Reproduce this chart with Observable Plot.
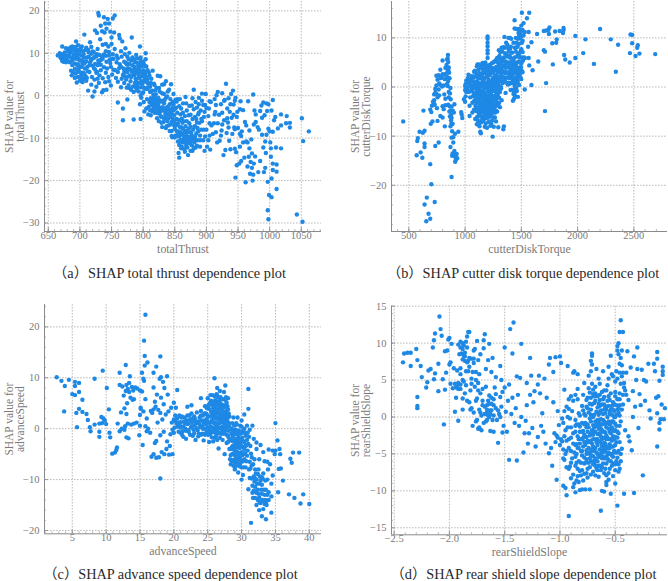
<!DOCTYPE html>
<html><head><meta charset="utf-8">
<script src="https://cdn.jsdelivr.net/npm/d3@7"></script>
<script src="https://cdn.jsdelivr.net/npm/@observablehq/plot@0.6"></script>
<style>
html,body{margin:0;padding:0;background:#fff}
#root{position:relative;width:668px;height:581px;overflow:hidden}
#root svg{position:absolute;background:transparent}
.cap{position:absolute;white-space:nowrap;transform:translate(-50%,-50%);font:14.3px "Liberation Serif","Noto Sans CJK SC",serif;color:#2a2a2a}
</style></head><body><div id="root"></div>
<script>
const thrustPoints=[
[665,9.5],[668,10],[670,8.8],[671,9.5],[672,11.6],[672,8.2],[673,9.8],[674,8],[675,9],[676,10.2],[677,8.5],[678,7.9],[679,9.4],[680,8.3],[681,10.5],[682,11],[683,9.6],[684,7.9],[685,11.4],[686,9],[686,10.3],[688,11.6],[688,8.4],[690,9.6],[690,11.2],[692,7.6],[693,10.4],[694,8.7],[695,9.3],[696,10.8],[697,7.4],[698,9.9],[699,8.4],[700,10.5],[702,9.5],[703,11.6],[704,8.2],[706,9.8],[707,7.6],[709,10.8],[711,9],[703,6.8],[686,5.9],[687,4.8],[692,4.2],[695,3.1],[696,5.6],[698,6.3],[700,3.6],[702,4.7],[704,3.2],[705,5.4],[706,4],[708,6.4],[709,4.6],[710,3.5],[712,5.8],[713,1.2],[718,2.6],[720,-0.2],[723,1],[726,2.1],[728,4],[715,7.2],[717,8.7],[720,10.4],[722,6.5],[724,9.3],[726,5.4],[728,11],[730,7.7],[707,14.4],[694,12.8],[716,12.6],[730,3],[733,6],[735,0.8],[737,1.3],[740,3.2],[742,1.4],[745,4.4],[749,2.4],[729,19.5],[730,18.9],[733,16.5],[735,15.2],[738,18.5],[740,17],[742,15.8],[744,18.1],[746,17],[748,15.1],[750,13.7],[752,18.2],[755,18.9],[724,15.4],[727,14.8],[732,13.3],[736,12],[739,14.9],[741,12.2],[745,11.6],[750,12.2],[754,14.9],[738,9.7],[733,8.4],[742,8],[746,10.3],[749,6.8],[753,8.7],[755,11],[758,9.4],[760,5.6],[762,14.3],[763,13.5],[765,10.5],[767,12.8],[770,8],[772,11.2],[775,9.2],[778,10.1],[782,13.7],[786,8.6],[789,9.6],[795,11.6],[804,10],[796,9],[760,-1.6],[768,-3],[768,-5.8],[775,-0.9],[778,1.8],[785,-5.6],[796,-5.5],[760,3.3],[765,2],[768,4.9],[770,3],[772,6.2],[774,1.9],[776,4.5],[778,7.5],[780,3.4],[782,5.7],[784,2.2],[786,6.8],[788,4],[790,1.3],[790,7.8],[792,5.2],[793,3],[794,6.5],[795,-2],[796,8.2],[797,2],[798,4.6],[799,0.6],[800,6],[801,3.4],[802,-3.7],[803,7],[804,1.6],[805,4.5],[806,-0.8],[807,6],[808,2.8],[809,-2.6],[810,4.7],[811,0.9],[812,-4.6],[812,3],[814,-1.2],[815,1.2],[816,-3],[817,-0.5],[818,2.5],[819,-1.9],[820,0.3],[821,-4],[822,-2.4],[823,4.7],[824,-0.5],[825,1.8],[826,-3.1],[827,4.6],[828,-1.4],[829,-5],[830,0.6],[831,-2.7],[832,-6.2],[833,2.7],[834,-1],[835,-3.8],[836,3.4],[837,-7.2],[838,-0.2],[839,-2.6],[840,-5.4],[841,1.4],[842,-8.3],[843,-3.4],[844,2.7],[845,-6.2],[846,-9.8],[847,-1.5],[848,0.4],[849,-4.6],[850,-7.8],[851,-9.4],[852,-2.8],[853,-5.5],[854,-0.8],[855,-8.6],[856,-13.5],[857,-14.6],[858,-10.7],[859,-4.4],[860,-7.4],[861,-12],[862,-9.2],[863,-1.8],[864,-6],[865,-11],[866,-13.2],[867,-0.3],[868,-8.3],[869,-3.5],[870,-12.2],[871,-14],[872,-9.8],[873,-6.5],[874,-11.2],[875,-4.5],[876,-8.8],[877,-2.3],[878,-13],[879,-10],[880,1.4],[881,-7.3],[882,-5],[883,-12.2],[884,-8.9],[885,-2.8],[886,-10.5],[888,-0.5],[889,-6.4],[890,-12],[891,-3.5],[892,-8],[893,0.5],[895,-10.5],[896,-5],[897,-13],[898,-2.2],[899,0.4],[900,-8],[901,-12],[903,-4.8],[905,-6.5],[906,-12.7],[907,-1.5],[910,-9],[912,-6.5],[913,-0.8],[914,-3.8],[916,0.1],[917,-11],[918,0.9],[920,-4.5],[921,-10.6],[923,-2],[924,-8.2],[925,0.6],[927,-14],[928,-5.8],[929,-1],[930,-12.8],[931,2.8],[932,-8.8],[933,-3],[934,-6.3],[935,-0.6],[936,-10.6],[937,-3.8],[938,-12.6],[939,0.4],[940,-5.2],[941,-9],[942,1.2],[943,-2.1],[944,-7.5],[945,-12.5],[946,-0.5],[947,-13.3],[948,-16.4],[949,-3.8],[950,-7.6],[952,-16],[953,-12],[954,-1.3],[955,-15.4],[956,-8.4],[958,-3.4],[960,-14.6],[961,-6.2],[962,-20.4],[946,-19.3],[963,-10.8],[965,-16.7],[966,-1.3],[967,-14.4],[968,-8.2],[969,-18.4],[970,-15.6],[971,-10.3],[972,-17],[973,-20],[974,0.3],[974,-18.6],[975,-16],[976,-3.5],[977,-14.3],[978,-6.2],[981,-7.4],[982,-18],[985,-15.4],[987,-2.3],[988,-9.2],[990,-1.6],[990,-12.2],[991,-18],[992,-4.6],[993,-17],[994,-13.5],[995,-1.8],[996,-3.6],[997,-20.3],[997,-27],[998,-29.1],[998,-2],[999,-23.4],[1000,-8.4],[1001,-11],[1002,-14.4],[1002,-12.4],[1003,-23.9],[1003,-19.5],[1003,-3.5],[1005,-1],[1005,-17.5],[1005,-16],[1005,-8.5],[1007,-5.8],[1009,-5],[1010,-12.2],[1011,-22],[1011,-17.9],[1011,-16.2],[1013,-7.7],[1018,-12.4],[1018,-7],[1018,-4.4],[1026,-6.5],[1027,-4.8],[1032,-7.5],[1032,-6.4],[1043,-28],[1051,-5.3],[1052,-29.7],[1053,-10.7],[1062,-8.4],
[790,2.5],[792,7],[794,4.2],[797,5.6],[799,2.8],[801,7.5],[803,5.2],[806,3.2],[783,7.2],[787,3],[791,5.8],[776,6.5],[781,8.3],[771,4.6],[765,6.8],[758,7.9],[752,9.8],[747,8.5],[741,10.5],[735,9.2],[729,8.3],[724,7.5],[718,9.9],[713,10.8],[808,-4.4],[813,-1.9],[819,-3.1],[825,-4.2],[830,-3.5],[835,-5.2],[840,-3.2],[845,-4.1],[850,-5.8],[855,-6.6],[860,-9],[865,-8.6],[870,-9.7],[875,-7.3],[880,-10.5],[885,-6.3],[858,-8.4],[862,-11],[868,-11.8],[873,-10.1],[877,-11.7],[882,-9.6],[823,-1.5],[828,-2.9],[833,0.4],[838,-4.5],[843,-0.8],[848,-3.4],[826,1],[816,0.2],[812,-0.6],[820,-1],[822,-5.3],[829,-6.4],[836,-7.6],[845,-8.3],[851,-3],[857,-2.5],[866,-4.8],[880,-3.2],[888,-4],[895,-2.2],[900,-2.9],[905,-9.4],[915,-8.6],[925,-4],[935,-7.5],[945,-7.9],[955,-9.5],[965,-11],[975,-6.8],[985,-3.6],[995,-9.2],
[678,11.2],[684,10.8],[689,10.7],[693,11.5],[697,11.9],[701,11.1],[705,10.5],[710,11.3],[714,10.2],[718,11.5],[722,10.3],[727,9.8],[669,9.2],[674,9.7],[678,8.9],[682,9.2],[686,8.1],[690,8.8],[694,9.8],[698,8.7],[702,8.3],[706,9],[710,8.1],[714,9.2],[718,8.4],[722,8.9],[726,9.3],[731,9.6],[736,8.7],[741,9.4],[746,9.5],[751,8.7],[688,7.2],[692,6.3],[696,7.1],[700,6.8],[704,7.6],[708,8],[712,6.8],[716,7.9],[720,7.1],[724,6.2],[728,7.2],[733,7.3],[738,6.7],[743,6.4],[748,7.7],[753,6.1],[689,5.5],[693,5.2],[697,4.4],[701,5.5],[703,3.9],[707,5.1],[711,4.2],[715,5.6],[719,4.4],[723,3.8],[727,5.6],[731,4.8],[736,4.1],[741,5.4],[746,3.4],[751,5],
[756,6],[760,8.8],[763,7.4],[766,9.2],[769,6.4],[771,9.8],[773,7.7],[775,5.6],[777,8.6],[779,6.3],[781,4.4],[783,9],[785,5],[787,7.9],[789,6.1],[791,8.8],[793,4.4],[795,7.4],[797,3.4],[799,5.1],[801,1.9],[803,3.9],[805,6.9],[807,1.6],[809,5.5],[811,2.1],[813,4],[815,5.9],[817,2.8],[800,8],[804,8.6],[773,3.8],[777,2.5],[781,1.4],[785,0.9],[789,3.5],[793,1],[797,-0.5],[801,-1.5],[805,-3],[786,4.8],[792,2],[796,0],[800,0.8],
[814,-3.6],[818,-0.2],[821,1.8],[824,-3.5],[827,-1.1],[830,2.6],[833,-3],[836,-0.5],[839,1],[842,-2],[845,-1.8],[848,-6],[851,-1],[854,-4],[857,-5.8],[860,-3],[863,-7.8],[866,-9.6],[869,-6],[872,-7.8],[875,-9.7],[878,-5.5],[881,-11],[884,-5.5],[887,-8.4],[890,-9.4],[893,-6],[896,-8],[810,-1.5],[815,-2.2],[820,-2.8],[825,-6],[830,-7.4],[835,-4.4],[840,-7],[845,-9.5],[850,-9.8],[855,-10.8],[860,-12.4],[865,-12.6],[870,-10.7],[875,-13],[880,-12.4],[885,-11.8],[890,-10.5],[852,-7],[857,-9.6],[862,-6.4],[867,-7.2],[872,-4.6],[877,-9.4],[882,-7.2],[887,-4.4],[892,-5.5],[897,-3.8],[833,-1.8],[838,-2.7],[843,-5],[848,-2],[853,-1.4],[858,-0.8],[863,-4],[868,-1.8],[873,-2.4],[878,-0.6],[883,-1.5],[888,-2],[893,-1.2],[898,-9.6],[903,-10.5],[908,-7],[913,-4.4],[918,-6.5],[923,-9.4],[928,-1.2],[933,-5.3],[938,-2],[943,-4.5],[948,-5],[953,-9],[958,-11],[963,-7],[968,-12.4],[972,-13.6],[978,-4.4],[983,-8],[988,-5.2],[993,-10.8],[998,-7.8],[953,-3.2],[945,-1.2],[925,-6.8],[915,-2.2],[905,-1.3],[904,-3],
[788,5.4],[795,3],[802,5.7],[807,3.9],[812,1],[819,1.2],[813,-1],[817,-1.4],[822,-1],[827,-3.8],[832,-1.2],[837,-3.4],[841,-4.2],[846,-2.9],[849,-7],[853,-8.3],[858,-7.4],[861,-5.4],[864,-10.2],[867,-10.4],[869,-8.8],[871,-11],[874,-8.6],[876,-10.6],[879,-8],[883,-10.4],[886,-7.6],[860,-10.4],[857,-11.6],[854,-9.5],[851,-6.6],[847,-5.5],[843,-6.8],[838,-6],[833,-5.4],[828,-4.8],[824,-2.2],[818,-4],[811,-3.4],[806,1.8],[802,4.4],[798,7],[793,6.2],[788,2],[784,6],[779,4.8],[774,7.4],[770,5.6],[766,4],[762,6.5],[757,4.2]
];
const torquePoints=[
[450,-7],[630,-4.8],[575,-11],[580,-10.4],[595,-9.1],[625,-9.3],[640,-8.9],[570,-13.9],[605,-13.3],[620,-14.4],[640,-11.5],[640,-12.2],[690,-15.7],[700,-19.8],[660,-22.5],[640,-23.9],[730,-23.4],[675,-25.8],[690,-26.8],[655,-27.3],[735,-12],[765,-11.3],[880,-18.3],[870,-12.2],[890,-13.5],[885,-14],[905,-13],[920,-13.8],[915,-14.3],[925,-13.6],[912,-15.2],[918,-14.8],[930,-14.5],[910,-9.5],[940,-9.1],[895,-11.3],[880,-10.3],[895,-10.2],[885,-9],[890,-7.5],[878,-7.5],[870,-8],[820,-8],[800,-6.2],[780,-5.9],[695,-7.5],[710,-7],[755,-6.9],[690,-4.6],[700,-5.1],[705,-3.8],[720,-3.1],[725,-2.7],[730,-3.6],[735,-1.2],[745,-1.4],[755,-2.1],[765,-0.5],[770,-1.7],[775,0.5],[750,-4.3],[800,-3.9],[810,-4.5],[825,-3.7],[825,-2.4],[815,-1.5],[850,-3.6],[855,-2.1],[862,-3.9],[866,-1.3],[870,-4.8],[875,-5.7],[880,-6.3],[890,-4.8],[900,-5.2],[905,-3.5],[975,-6.3],[965,-5.1],[970,-5.6],[1040,-5.9],[990,-2.5],[1000,-3],[1005,-1.9],[1040,-3.8],[745,2.3],[765,2.4],[770,0.7],[780,3.5],[790,1.9],[800,5.4],[815,2.5],[825,3.9],[835,4.5],[840,5.6],[848,6.5],[850,5.1],[855,4],[845,3.3],[858,2.9],[862,1.8],[850,1.2],[840,0.6],[810,0.3],[795,0.1],[870,-0.2],
[1000,0.2],[1005,0.6],[1010,1.3],[1015,0.1],[1020,-0.4],[1025,1.8],[1030,2.5],[1035,-1],[1040,0.7],[1045,-2.1],[1050,1.5],[1055,-0.5],[1060,2.2],[1065,-3.2],[1065,-5.2],[1070,0.3],[1075,-1.6],[1080,3.1],[1080,-4.6],[1085,1],[1090,-2.9],[1090,-6.5],[1095,-0.3],[1100,-4.1],[1100,2.4],[1105,-7.6],[1105,-1.7],[1110,4.6],[1110,0.6],[1115,-3],[1115,-6],[1120,3.5],[1120,-1],[1125,-4.8],[1125,-7.3],[1130,1.8],[1130,-2.2],[1135,-9.1],[1140,-9.4],[1135,-5.8],[1140,3.9],[1140,0.3],[1145,-3.4],[1145,-7],[1150,2.2],[1150,-0.9],[1155,4.9],[1155,-5],[1160,-2.3],[1160,1],[1165,-6.7],[1165,3],[1170,-0.2],[1170,-3.9],[1175,-8.1],[1175,1.9],[1180,-1.3],[1180,4],[1185,-5.6],[1185,-2.8],[1190,0.5],[1195,-8.3],[1195,2.5],[1200,10.3],[1200,9.8],[1200,9],[1200,8.3],[1200,7.5],[1200,6.8],[1200,5.9],[1200,4.4],[1205,3.3],[1205,-3.7],[1205,-0.6],[1210,1.5],[1210,-6.2],[1215,-2],[1215,4],[1220,0.2],[1220,-4.4],[1225,2.8],[1225,-7.9],[1230,-1.1],[1230,-5.5],[1235,1.1],[1235,4.8],[1240,-3],[1240,-6.8],[1245,-10.1],[1245,3.3],[1250,0],[1250,-4.5],[1255,2],[1255,-8.1],[1260,-1.8],[1260,5.2],[1265,-3.7],[1265,-6.2],[1270,0.9],[1270,3.8],[1275,-2.6],[1275,-7],[1280,2.4],[1280,-0.5],[1285,5.9],[1285,-5],[1290,-1.9],[1290,3.1],[1295,-8.2],[1295,0.4],[1300,4.7],[1300,-3.3],[1305,1.6],[1305,6.3],[1310,-1],[1310,-4.1],[1315,3.3],[1320,5.6],[1320,-0.3],[1325,2],[1325,-2.7],[1330,7.2],[1330,4.1],[1335,0.8],[1340,-8.6],[1345,-8],[1340,3],[1345,6],[1350,8],[1350,10.2],[1350,1.8],[1355,4.4],[1360,-1.2],[1365,6.6],[1370,2.8],[1375,8.6],[1380,4.9],[1380,0.5],[1385,10],[1390,2],[1395,6.3],[1400,3.8],[1400,7.8],[1405,-0.6],[1410,5.2],[1410,9.8],[1415,3],[1420,7],[1420,1],[1425,-2.8],[1425,5],[1430,9],[1430,-1.4],[1435,2.8],[1435,-2.4],[1440,13.6],[1440,11.9],[1440,6],[1440,0.2],[1445,3.4],[1445,-1.8],[1450,10],[1450,8],[1455,1.6],[1455,4.8],[1460,11.8],[1460,-0.8],[1465,2.5],[1470,6.6],[1470,-2],[1475,11],[1475,3.8],[1480,10.4],[1480,0.4],[1485,5],[1490,9.9],[1490,2.8],[1495,7.4],[1495,4.1],[1500,12.5],[1500,10.4],[1505,15.1],[1505,6],[1510,11.6],[1510,3],[1515,5.4],[1520,13],[1525,6],[1530,11.2],[1530,-0.5],[1550,14],[1560,8.2],[1565,11.2],[1565,5.9],[1570,15.1],[1570,4.4],[1590,0.4],[1590,9.1],[1600,3.4],[1640,10.8],[1650,5.2],[1700,11.4],[1700,7.5],[1710,7.2],[1710,-4.9],[1720,11.5],[1720,0.8],[1740,11.6],[1745,10.8],[1750,12.1],[1775,8.9],[1780,4.6],[1800,11.3],[1810,9],[1815,9.7],[1840,11.4],[1870,11],[1875,11.6],[1875,12],[1880,6.5],[1890,5.6],[1930,5],[1980,5.9],[1980,10.4],[2050,6.9],[2070,9.7],[2145,4.7],[2200,11.8],[2295,9.7],[2340,3.1],[2360,8.6],[2465,6.9],[2470,10.7],[2485,10.6],[2485,8.9],[2515,6.3],[2530,8],[2535,8.5],[2550,6.8],[2690,6.7],
[1100,-1.5],[1108,-3],[1112,-0.8],[1118,0.8],[1122,-2.6],[1128,-0.4],[1133,-3.6],[1138,-1.6],[1142,-5],[1148,-2.2],[1152,0.6],[1158,-3.6],[1162,-1],[1168,1.8],[1172,-2.6],[1178,-4.6],[1182,0],[1188,-3.4],[1192,-1.8],[1198,-5.4],[1202,0.6],[1208,-2.6],[1212,-0.8],[1218,-3.4],[1222,-1.4],[1228,0.8],[1232,-3],[1238,-0.4],[1242,-1.8],[1248,1.4],[1252,-2.6],[1258,0.6],[1262,3.4],[1268,-0.8],[1272,1.8],[1278,-1],[1282,3.8],[1288,1.4],[1292,4.2],[1298,2],[1302,-0.9],[1308,3.8],[1312,1.8],[1318,2],[1322,3.6],[1328,5.4],[1335,3.2],[1342,1.2],[1348,4.4],[1358,2.8],[1362,5.2],[1368,4],[1373,0.8],[1378,3],[1388,4],[1392,0.6],[1398,1.8],[1402,6],[1408,2.4],[1412,0.8],[1418,4.4],[1422,2.8],[1428,0.8],[1432,3.4],[1438,4.8],[1442,1.8],[1448,-0.5],[1452,2.8],[1458,0.8],[1462,4],[1468,1.2],[1472,3],[1478,6.6],[1488,3.6],[1498,1.6],[1073,2.1],[1092,3],[1105,4.2],[1125,4.6],[1147,4.2],[1172,3.6],[1187,2.8],[1212,3.6],[1242,3.9],[1262,1.7],[1115,1.9],[1135,2.4],[1158,2.8],[1178,-6.2],[1123,-5.4],[1143,-4.4],[1163,-5.2],[1183,-7.4],[1203,-5],[1223,-5.8],[1243,-3.4],[1263,-4.6],[1283,-3.6],[1303,-2.2],[1113,-4.4],[1133,-7],[1153,-6.4],[1193,-4],[1213,-4.4],[1233,-7.5],[1253,-6.2],[1273,-4.8],[1293,-1.3],
[1088,3.3],[1127,2.8],[1162,3.4],[1192,3.1],[1227,3.4],[1252,2.9],[1293,3.2],[1077,1.9],[1102,2.2],[1123,1.8],[1147,2.3],[1171,1.7],[1197,2.1],[1218,2.4],[1247,1.8],[1268,2.2],[1302,1.9],[1321,2.4],[1062,1.1],[1087,0.8],[1108,1.2],[1137,0.7],[1156,1.3],[1178,0.9],[1207,1.2],[1232,0.7],[1253,1.1],[1282,0.9],[1311,1.2],[1047,0.2],[1077,-0.2],[1093,0.3],[1122,-0.1],[1146,0.2],[1167,-0.3],[1188,0.1],[1217,0.3],[1238,-0.2],[1267,0.2],[1291,-0.1],[1316,0.1],[1062,-0.8],[1088,-1.2],[1107,-0.9],[1132,-1.1],[1151,-0.8],[1173,-1.2],[1198,-0.9],[1227,-1.2],[1248,-0.8],[1277,-1.1],[1301,-0.7],[1072,-1.9],[1096,-2.2],[1118,-1.8],[1141,-2.1],[1166,-1.8],[1189,-2.2],[1211,-1.9],[1236,-2.2],[1258,-1.8],[1287,-2.1],[1082,-2.8],[1103,-3.2],[1127,-2.9],[1152,-3.1],[1174,-2.8],[1197,-3.2],[1219,-2.9],[1246,-3.1],[1268,-2.8],[1294,-3.2],[1092,-3.8],[1113,-4.2],[1137,-3.9],[1162,-4.1],[1183,-3.8],[1207,-4.2],[1228,-3.9],[1257,-4.1],[1278,-3.8],[1098,-4.9],[1122,-5.1],[1147,-4.8],[1168,-5.1],[1192,-4.9],[1217,-5.1],[1238,-4.8],[1267,-5.2],[1107,-6.1],[1128,-5.9],[1157,-6.1],[1173,-5.8],[1202,-6.2],[1223,-5.9],[1252,-5.2],[1116,-6.9],[1142,-7.2],[1158,-6.9],[1187,-6.3],[1208,-7.1],[1112,-7.4],[1128,-8],[1119,-7.6],
[1342,8.1],[1382,7.9],[1407,8.2],[1442,8],[1467,8.2],[1312,7.1],[1353,6.9],[1387,7.2],[1413,7],[1452,7.2],[1478,6.9],[1512,7.1],[1302,6.1],[1337,5.9],[1372,6.2],[1398,6],[1432,5.8],[1462,6.2],[1488,6],[1532,5.9],[1287,5.1],[1317,4.9],[1343,5.2],[1377,5],[1403,4.9],[1427,5.2],[1448,5],[1477,5.2],[1502,4.9],[1277,4.1],[1307,4],[1332,4.2],[1362,3.9],[1392,4.1],[1417,3.8],[1447,4.2],[1468,3.9],[1497,4],[1293,3],[1322,2.9],[1352,3.1],[1382,2.9],[1407,3.1],[1433,2.9],[1458,3.1],[1487,2.9],[1507,3.2],[1312,2.1],[1342,2],[1372,1.9],[1397,2.2],[1427,2],[1452,1.8],[1477,2.1],[1492,2],[1327,1],[1357,1.1],[1387,0.9],[1422,1.2],[1447,1],[1467,0.8],[1437,-1.1],[1443,-2],[1428,-0.6],[1447,-0.9],[1455,-0.2],[1432,1.6],[1500,7.7],[1512,9.4],[1480,8.8],[1470,9.8],[1520,10.5],[1495,11.2],[1455,9],[1480,11.8],[1505,9],[1400,10],[1365,9],[1325,8],[1300,7.5],
[845,5.8],[835,4],[852,3.5],[843,2],[846,0.2],[855,-1],[860,-5],[865,-6],[872,-2.5],[880,-4],[875,-6.8],[830,2.7],[820,1.6],[800,2.6],[780,1.8],[755,1.5],[745,0.3],[735,-0.4],[725,-1.5],[715,-3],[1000,-0.6],[1020,1],[1010,-1],[1030,1],[1180,5],[1168,4.5],[1220,4.5],[1250,5],[1275,5.5],[1295,5.8]
];
const speedPoints=[
[2.7,10.1],[3.4,9.4],[3.9,8.4],[3.8,3.4],[4.5,9.6],[5,6.8],[5.4,9.2],[5.4,8.4],[5.4,6.6],[5.6,3.1],[5.7,0.3],[6,9],[6,7.2],[6,3.9],[6.5,5.7],[6.5,3.3],[7.1,2.9],[7.3,1.7],[7.6,0.3],[7.7,-0.5],[8.3,9.8],[8.3,0.8],[9,-0.6],[9,-1.6],[9,1],[9.3,2.3],[9.5,11.4],[9.4,1.1],[9.6,2],[9.8,1.6],[10,0.9],[10.1,8],[10.4,3.8],[10.5,-0.8],[10.6,-1.7],[10.9,-4.9],[11.3,-4.7],[11.5,-4.2],[11.6,-3.7],[11.7,1],[12,11],[12,-0.5],[12,8.6],[12.2,3.2],[12.3,0],[12.4,8.3],[12.6,6.5],[12.7,-0.2],[12.7,4],[12.8,0.5],[12.9,7.4],[12.9,12.5],[13,-1.7],[13,2.9],[13,8.6],[13.1,5],[13.2,7.8],[13.2,1],[13.3,-1.9],[13.4,9],[13.4,7.2],[13.5,10.3],[13.6,6.1],[13.7,0.8],[13.8,8.2],[13.9,5.7],[14,7.5],[14.1,1],[14.1,5.8],[14.3,8.1],[14.5,1.2],[14.6,7.9],[14.9,-1.3],[15,0.6],[15,7.5],[15,2.7],[15.1,3.9],[15.1,4.1],[15.3,7.3],[15.3,11],[15.4,-3.2],[15.5,3.4],[15.5,9.8],[15.6,9.4],[15.7,12.4],[15.7,14.3],[15.6,17.3],[15.8,22.4],[15.8,0.5],[15.8,5.8],[16,2],[16,-0.5],[16.1,13],[16.2,0],[16.5,-0.8],[16.6,3.5],[16.7,-5.5],[16.8,3.1],[17,11],[17,-5],[17,8.1],[17,3.8],[17.2,5.3],[17.2,-2.8],[17.3,4.3],[17.4,12.2],[17.4,-5.7],[17.4,-2.4],[17.5,6.7],[17.6,1.2],[17.7,3.7],[17.8,-5.6],[17.9,9.8],[18,14.2],[18,-9.8],[18,-1.3],[18,3.1],[18.1,6.1],[18.1,10.1],[18.2,-4.6],[18.3,1.8],[18.4,9.2],[18.5,-0.6],[18.5,4.8],[18.6,-5],[18.6,8],[18.8,2.8],[18.9,-4],[19,-2.5],[19,10.3],[19.1,6.7],[19.2,3.4],[19.3,-5.1],[19.4,-3.4],[19.5,-1.1],[19.6,4.1],[19.8,-5],[19.8,-0.2],[20,5.1],[20,1.8],[20.2,2.6],[20.3,4.1],[20.5,7.6],[20.6,0.4],[20.8,2.6],[21,-0.8],[21,1.3],[21.2,-1.2],[21.4,0.4],[21.6,2.2],[21.8,-2],[22,0.9],[22,4.3],[22.2,-0.6],[22.4,1.8],[22.6,4.6],[22.6,3],[22.8,-1.4],[23,0.6],[23,2.4],[23.2,-2.2],[23.4,3.2],[23.5,-0.3],[23.6,1.4],[23.8,2.2],[24,-1.2],[24,6],[24,3.5],[24.2,0.5],[24.4,-2.3],[24.5,1.6],[24.6,4.4],[24.8,-0.7],[25,6],[25,2.6],[25,0.3],[25.2,-2.6],[25.2,3.9],[25.4,6.6],[25.4,-1],[25.6,1.6],[25.6,4.7],[25.8,-2.5],[25.8,2.8],[25.8,0],[26,6.4],[26,9.9],[26,4.6],[26,1],[26.2,-1.5],[26.2,3],[26.4,8],[26.4,-0.3],[26.4,5.2],[26.6,1.8],[26.6,-3.9],[26.8,4],[26.8,7.4],[26.8,0.2],[27,2.8],[27,-1],[27.2,5.8],[27.2,1.3],[27.2,-2.2],[27.4,4.2],[27.4,7.2],[27.5,-5],[27.6,8.5],[27.6,2.6],[27.6,-0.4],[27.8,5.1],[27.8,1],[27.8,-2.8],[28,3.8],[28,-1.4],[28,6],[28.2,0.4],[28.2,-4],[28.2,2.4],[28.4,-7],[28.4,-5.2],[28.4,-2.2],[28.6,1.1],[28.6,-6.4],[28.6,-3.6],[28.8,-0.4],[28.8,-7.3],[28.8,2.2],[29,-5],[29,-2.4],[29,-8],[29.2,-1],[29.2,-6.6],[29.2,1.1],[29.4,-3.6],[29.4,-5.4],[29.4,2.2],[29.5,-8.6],[29.6,-1.8],[29.8,-6.8],[29.8,0.6],[29.8,-3],[30,-10],[30,-4.6],[30,1.6],[30,-0.9],[30.2,-6.4],[30.2,-9.1],[30.2,-2.4],[30.4,2.8],[30.4,-4],[30.4,0],[30.6,-7.6],[30.6,-1.4],[30.8,-5.3],[30.8,0.6],[31,7.8],[31,3.9],[31,-11.9],[31,-3],[31.2,-9.7],[31.2,-6.5],[31.2,-0.2],[31.4,-18.5],[31.4,-4.9],[31.5,-7.2],[31.6,-11.2],[31.6,-12.6],[31.6,0.6],[31.8,-9.4],[31.8,-2],[32,-13.6],[32,-8],[32,-11.4],[32.2,-15],[32.2,-4],[32.2,-2.7],[32.4,-8.9],[32.4,-12],[32.6,-13.5],[32.6,-6],[32.6,-16],[32.8,-10.2],[32.8,-3.2],[33,-17.2],[33,-12.8],[33,-11],[33.2,-8.8],[33.2,-15.8],[33.2,-4.6],[33.4,-13],[33.4,-6.4],[33.6,-14.4],[33.6,-17.8],[33.8,-10],[33.8,-6.5],[34,-4.1],[34,-12.5],[34,-14],[34.2,-7],[34.4,-16.5],[34.4,-10.8],[34.4,-13.3],[34.6,-9.2],[34.6,-4.3],[34.9,-5],[35,1.1],[35,-4.3],[35.3,-2.3],[35.4,-12.5],[35.5,-7.9],[35.6,-4],[35.7,-5],[35.8,-7.8],[36.1,-10.2],[37,-12.9],[37.2,-5.9],[37.4,-6.7],[37.6,-4.7],[37.8,-13.6],[38.5,-4.7],[38.7,-14.7],[39.1,-12.9],[40,-14.8],
[25.5,3.3],[25.7,1.4],[25.9,3.6],[26.1,2],[26.3,0.7],[26.5,3.4],[26.7,2.2],[26.9,1.2],[27.1,3.6],[27.3,0],[27.5,2],[27.7,3.4],[27.9,2],[28.1,-0.4],[25.3,1.1],[25.1,-1.2],[24.9,2],[24.7,0.9],[24.3,2.6],[24.1,1.6],[23.9,0.3],[23.7,-1],[23.3,1],[23.1,2],[22.9,-0.2],[22.7,1.3],[22.5,0.2],[22.3,2.6],[22.1,-0.3],[21.9,1.6],[21.7,0],[21.5,1.4],[21.3,-0.5],[21.1,2.2],[20.9,0.6],[20.7,-0.6],[20.4,1],[20.1,0.2],[26.1,5.6],[26.3,6.8],[26.5,6.2],[26.7,5.5],[26.9,6.2],[27.1,4.6],[27.3,3.2],[27.5,4.2],[27.7,6.2],[27.9,2.9],[25.9,5],[25.7,6.6],[25.5,5.5],[25.3,5],[25.1,4.6],[26,-1.8],[26.4,-2.2],[26.8,-1.8],[27.2,-0.4],[29,-3.6],[29.2,-4.4],[29.4,-2.4],[29.6,-4.8],[29.8,-2],[30,-7.6],[30.2,-3.6],[30.4,-6],[30.6,-3.4],[30.8,-2.2],[29.1,-0.2],[29.3,0.8],[29.5,-0.4],[28.9,-3.2],[28.7,-1.6],[28.5,-1],[28.3,-6],[28.5,-3.8],[28.7,-5],[28.9,-6.2],[29.1,-7.4],[29.3,-2.6],[32.4,-14],[32.8,-14.6],[33,-14.2],[33.4,-14.8],[33.6,-12],[33.8,-13],[32.2,-12.6],[32.6,-10.8],[33,-9.6],[32.2,-10],[31.8,-12.2],[32,-9.8],
[19.7,1.2],[20,-0.8],[20.2,1.5],[20.5,2],[20.7,1.2],[21,0.2],[21.2,2.4],[21.4,-1.6],[21.6,1],[21.8,-0.4],[22,2.6],[22.2,1.1],[22.4,-1.2],[22.6,0.5],[22.8,2],[23,-0.9],[23.2,1.4],[23.4,0.1],[23.6,-1.5],[23.8,0.9],[24,2.6],[24.2,-1],[24.4,1.2],[24.6,0],[24.8,2.9],[25,1.4],[25.2,-0.4],[25.4,2.4],[25.6,-1.7],[25.8,1.2],[24.9,4],[24.7,3],[24.5,3],[24.3,0],
[25.4,0.4],[25.5,-0.6],[25.6,0.3],[25.7,3],[25.8,4],[25.9,2.2],[25.9,-0.7],[26,0.1],[26,3],[26.1,-0.4],[26.1,4.4],[26.2,1.2],[26.2,2.4],[26.3,3.8],[26.3,-1],[26.4,2],[26.4,6.6],[26.5,0.2],[26.5,4.6],[26.6,3],[26.6,-0.9],[26.7,1],[26.7,4.4],[26.8,2.8],[26.8,-0.9],[26.9,0.1],[26.9,5],[27,1.9],[27,4],[27.1,-0.2],[27.1,2.6],[27.2,3.2],[27.2,0.4],[27.3,1.6],[27.3,4.6],[27.4,-1],[27.4,2.4],[27.5,0.8],[27.5,3.2],[27.6,5.6],[27.6,1.4],[27.7,0.2],[27.7,4.6],[27.8,2.4],[27.8,-1.2],[27.9,0.6],[27.9,4.4],[28,1.3],[28,-2.6],[28.1,1],[28.1,3],[28.1,-1.8],[25,-0.6],[24.8,1.1],[24.6,-1.2],
[28.4,-4],[28.5,0],[28.5,-6.2],[28.6,-2.4],[28.6,-5],[28.7,-0.4],[28.7,-3.4],[28.8,-6.2],[28.8,-1.2],[28.9,-4.2],[28.9,0.6],[29,-6.6],[29,-0.8],[29.1,-2],[29.1,-5.5],[29.2,-3.2],[29.3,-6.2],[29.3,-0.7],[29.4,-4.6],[29.4,-1.2],[29.5,-7],[29.5,-2.8],[29.6,-5.8],[29.6,-0.4],[29.7,-3.8],[29.7,-7.4],[29.8,-5.4],[29.8,-1],[29.9,-2.6],[29.9,-6.2],[30,-3.4],[30,0.4],[30.1,-5.2],[30.1,-1.8],[30.2,-0.4],[30.3,-5],[30.3,-7.6],[30.4,-2.6],[30.5,-0.8],[30.5,-4.8],[30.7,-6.4],[30.7,-3.2],[30.9,-4.3],[30.9,-0.8],[31.1,-1.6],[31.1,-8],[31.3,-3.4],[31.3,-7.8],[31.5,-5.6],[31.5,-9.8],[31.7,-7],[31.7,-13.6],[31.9,-10.4],[31.9,-6],[32.1,-12.4],[32.1,-8.8],[32.3,-10.8],[32.5,-8],[32.5,-12.8],[32.7,-9.4],[32.7,-14.5],[32.9,-12],[33.1,-14],[33.1,-9.8],[33.3,-12],[33.5,-14],[33.5,-10.2],[33.7,-15],[33.9,-8]
];
const slopePoints=[
[-2.42,7.4],[-2.41,8.6],[-2.38,8.7],[-2.35,8.7],[-2.35,6.9],[-2.3,9.2],[-2.29,7.7],[-2.29,2.7],[-2.29,1.5],[-2.29,1.2],[-2.26,6.9],[-2.25,5.4],[-2.21,4],[-2.2,4.7],[-2.19,6.3],[-2.17,6.5],[-2.15,9.4],[-2.14,10.4],[-2.13,11.3],[-2.14,5.1],[-2.13,5.9],[-2.1,3.5],[-2.1,7.2],[-2.09,13.6],[-2.08,11.9],[-2.07,11],[-2.06,5.1],[-2.05,-1],[-2.04,3.7],[-2.04,8.9],[-2.03,6],[-2.02,9],[-2.01,10.5],[-2,10.7],[-2,7.1],[-1.99,7.4],[-1.99,4.5],[-1.98,9.9],[-1.96,6.6],[-1.95,0.7],[-1.94,2.6],[-1.93,4.1],[-1.93,6.3],[-1.92,-0.5],[-1.91,8.5],[-1.9,6.6],[-1.89,8.6],[-1.88,1],[-1.88,2.5],[-1.87,4.8],[-1.87,9.7],[-1.86,7.6],[-1.85,4.3],[-1.84,9.4],[-1.83,11.5],[-1.82,11.5],[-1.82,8],[-1.81,1],[-1.81,3.6],[-1.8,4.5],[-1.79,-1.2],[-1.79,6.1],[-1.78,9],[-1.77,9.2],[-1.77,4.1],[-1.76,2.2],[-1.75,10.3],[-1.75,2.5],[-1.74,7.7],[-1.73,1],[-1.73,5.8],[-1.72,8.5],[-1.71,-1.8],[-1.7,3.8],[-1.69,10.4],[-1.69,9.3],[-1.68,11.2],[-1.67,6.5],[-1.67,4.1],[-1.66,1.6],[-1.65,7.7],[-1.64,9.9],[-1.64,2.9],[-1.63,-1.9],[-1.62,6.1],[-1.62,0.9],[-1.61,8],[-1.6,1.6],[-1.6,-2],[-1.59,4],[-1.58,3.1],[-1.58,5.4],[-1.57,-0.4],[-1.56,-3.5],[-1.55,0.4],[-1.54,2.7],[-1.54,6.9],[-1.53,5],[-1.53,1.4],[-1.52,-2.1],[-1.51,-1.2],[-1.5,9.4],[-1.5,4],[-1.49,0.7],[-1.48,-2],[-1.47,2.2],[-1.46,4.4],[-1.46,-5.8],[-1.45,11.9],[-1.44,0.4],[-1.43,8.6],[-1.43,2.6],[-1.42,12.8],[-1.41,-0.8],[-1.4,1.2],[-1.39,5.5],[-1.39,-5.9],[-1.38,3],[-1.37,-1.2],[-1.36,5.3],[-1.35,9.9],[-1.35,0],[-1.33,-4.8],[-1.32,-2.2],[-1.31,-0.5],[-1.3,1.6],[-1.3,4.6],[-1.29,-3.6],[-1.28,-2.2],[-1.27,8],[-1.27,3],[-1.26,5.6],[-1.25,-1.5],[-1.24,2],[-1.23,3.5],[-1.22,-4],[-1.2,-2.7],[-1.2,4.4],[-1.19,5.6],[-1.18,3.2],[-1.17,-1.2],[-1.16,0.5],[-1.15,-2],[-1.14,5.2],[-1.13,-3.6],[-1.12,2.6],[-1.1,-4.9],[-1.1,7.1],[-1.09,8],[-1.08,-4.2],[-1.07,-6.6],[-1.06,2],[-1.06,6.1],[-1.05,-2.2],[-1.04,8.1],[-1.03,-8.5],[-1.03,-2.5],[-1.02,0.8],[-1.01,-1.1],[-1,8.2],[-0.99,7.3],[-0.98,-3.3],[-0.97,-9.3],[-0.96,3.7],[-0.96,-5.8],[-0.95,-9.6],[-0.94,-10.6],[-0.93,6.9],[-0.92,-13.4],[-0.92,1.1],[-0.91,-6.7],[-0.9,-8.3],[-0.89,0.8],[-0.88,6],[-0.87,6.2],[-0.86,-10.2],[-0.85,-3.7],[-0.84,5.8],[-0.83,-4.2],[-0.82,-9.9],[-0.81,-7.9],[-0.8,-9.8],[-0.79,3],[-0.78,-6.3],[-0.77,-9.8],[-0.76,-1.4],[-0.75,2.6],[-0.74,-3.4],[-0.73,-9.8],[-0.72,-4.7],[-0.71,8.6],[-0.7,3.7],[-0.7,-2.4],[-0.69,-6.3],[-0.68,-7.9],[-0.67,6.5],[-0.66,-3.5],[-0.65,-8.1],[-0.65,5.2],[-0.64,1.5],[-0.63,-12.7],[-0.63,-0.3],[-0.62,-10],[-0.61,6.2],[-0.6,-2],[-0.6,-10.1],[-0.59,-5.6],[-0.58,1.4],[-0.57,-5],[-0.57,4.3],[-0.56,-8.5],[-0.56,6.8],[-0.55,-7],[-0.55,2.3],[-0.55,-1],[-0.54,-10.4],[-0.54,8.3],[-0.53,-3.2],[-0.53,0.3],[-0.52,-6.3],[-0.52,5.5],[-0.51,-1.9],[-0.5,-9],[-0.5,2.8],[-0.5,-4.8],[-0.49,6.2],[-0.48,9],[-0.48,-2.8],[-0.48,-12],[-0.47,0.6],[-0.47,-6.4],[-0.46,3.2],[-0.46,11.5],[-0.45,-0.6],[-0.45,13.1],[-0.45,8],[-0.44,5.5],[-0.44,-4.3],[-0.43,1.7],[-0.43,11.5],[-0.42,-10.4],[-0.42,4],[-0.41,-1.8],[-0.4,6],[-0.39,8.9],[-0.38,2.3],[-0.38,-2.6],[-0.37,-3.3],[-0.36,6.7],[-0.35,-4.5],[-0.34,0],[-0.34,3.5],[-0.33,8.2],[-0.33,-10.3],[-0.32,1.4],[-0.31,5],[-0.3,6.5],[-0.3,9.4],[-0.29,-1.5],[-0.28,3.1],[-0.27,1.6],[-0.26,6.4],[-0.25,-7.9],[-0.24,5],[-0.23,2.2],[-0.22,4.8],[-0.2,7.2],[-0.19,0.9],[-0.18,-0.2],[-0.15,7.2],[-0.14,6.2],[-0.13,2.6],[-0.12,8.8],[-0.12,-4],[-0.12,7.9],[-0.12,0.5],[-0.11,2.8],[-0.1,4.9],[-0.1,-0.8],[-0.1,-1.7],[-0.09,-0.3],[-0.08,1.7],[-0.07,6.2],[-0.07,6.8],[-0.07,5.7],[-0.06,-0.3],[-0.05,1.2],
[-0.85,-1],[-0.84,2.4],[-0.83,-6],[-0.82,0.2],[-0.81,-3],[-0.8,1.5],[-0.8,-5.2],[-0.79,-1.9],[-0.78,-7.7],[-0.78,0.4],[-0.77,-3.8],[-0.76,2.3],[-0.76,-5.7],[-0.75,-1],[-0.75,-7],[-0.74,0.6],[-0.74,-4.9],[-0.73,3.3],[-0.73,-2.5],[-0.72,-6],[-0.72,1],[-0.71,4.5],[-0.71,-3.6],[-0.7,0],[-0.7,-5.3],[-0.69,1.9],[-0.69,-1.4],[-0.68,3.2],[-0.68,-4.2],[-0.67,-0.7],[-0.67,-6.9],[-0.66,1.3],[-0.66,-2.3],[-0.65,-5.4],[-0.65,0.3],[-0.64,3],[-0.64,-3.3],[-0.63,-7.2],[-0.63,-1.6],[-0.62,1.7],[-0.62,-4.6],[-0.61,-0.4],[-0.61,-6.3],[-0.6,2.7],[-0.6,-3.5],[-0.59,0.5],[-0.59,-2.1],[-0.58,-7.9],[-0.58,-4],[-0.57,-0.8],[-0.57,-2.8],[-0.56,1.5],[-0.56,-5.9],[-0.55,-3.7],[-0.54,-1.6],[-0.54,1],[-0.53,-5],[-0.52,-0.6],[-0.52,-2.6],[-0.51,1.7],[-0.5,-6.4],[-0.5,0],[-0.49,-3.4],[-0.49,-1.2],[-0.48,-5.5],[-0.48,1],[-0.47,-2.2],[-0.46,-7],[-0.46,0.2],[-0.45,-5],[-0.88,-2.2],[-0.87,-4.8],[-0.86,-0.4],[-0.89,-5.6],[-0.9,-2.8],[-0.91,-0.2],[-0.92,-4.2],[-0.93,-1.4],[-0.94,-3.2],[-0.95,-1.8],[-0.96,-2.6],[-0.97,-0.8],[-0.75,-2],[-0.74,-3.4],[-0.72,-0.6],[-0.71,-1.8],[-0.7,-3],[-0.69,-4.6],[-0.68,-2],[-0.67,-3.4],[-0.66,-5],[-0.66,-0.4],[-0.65,-1.6],[-0.64,-4.4],[-0.64,-0.9],[-0.63,-2.6],[-0.62,-1],[-0.62,-3],[-0.61,-4.8],[-0.61,-2],[-0.6,-0.6],[-0.6,-5.6],[-0.59,-3.6],[-0.59,-1],[-0.58,-5.4],[-0.58,1],[-0.57,-4.2],[-0.56,-1.6],[-0.55,-5],[-0.55,0.4],[-0.54,-3],[-0.53,-6.6],[-0.53,-1.4],[-0.52,-4],[-0.51,-3],[-0.51,0],[-0.5,-1.8],[-0.77,-0.8],[-0.78,-2.4],[-0.79,-4],[-0.8,-0.8],[-0.81,-6.2],[-0.82,-2],[-0.83,-1],[-0.84,-7],[-0.86,-5.4],[-0.88,-7.8],[-0.87,-9],[-0.85,-8.6],[-0.83,-8.8],[-0.79,-8.6],[-0.75,-8.2],[-0.7,-7.4],[-0.66,-6],[-0.62,-6.8],[-0.59,-7],[-0.73,-6.8],[-0.76,-4.5],[-1.9,5.8],[-1.88,7.8],[-1.86,8.7],[-1.84,7.4],[-1.8,7.9],[-1.78,7.3],[-1.76,6.1],[-1.74,4.6],[-1.72,3.2],[-1.7,2.2],[-1.68,1.4],[-1.66,0.6],[-1.64,0],[-1.62,1.8],[-1.6,2.4],[-1.58,1.2],[-1.56,0.9],[-1.54,0],[-1.52,3.4],[-1.94,4],[-1.92,3.8],[-1.9,4.4],[-1.88,5],[-1.85,6.2],[-1.82,6.8],[-1.6,0.2],[-1.63,0.9],[-1.65,2.2],[-1.67,-0.6],[-1.69,-0.8],[-1.71,0.2],[-1.73,-1.4],[-1.75,-0.4],
[-0.74,3.9],[-0.7,3.1],[-0.66,2.8],[-0.62,3.4],[-0.58,3.6],[-0.54,3.2],[-0.5,3.4],[-0.76,1.4],[-0.72,2.6],[-0.68,2.2],[-0.64,2.3],[-0.6,1.7],[-0.56,2.8],[-0.52,2],[-0.48,2.4],[-0.46,1.6],[-0.79,0.9],[-0.75,1.2],[-0.71,1.7],[-0.67,0.7],[-0.63,0.9],[-0.59,1.3],[-0.55,0.7],[-0.51,0.8],[-0.47,1.2],[-0.83,0.5],[-0.77,0.2],[-0.73,-0.2],[-0.69,0.3],[-0.65,-0.5],[-0.61,0.4],[-0.57,0],[-0.53,-0.6],[-0.49,0.3],[-0.86,-2],[-0.82,-1.3],[-0.78,-1],[-0.74,-1.4],[-0.7,-1.1],[-0.66,-1.2],[-0.62,-1.8],[-0.58,-1.4],[-0.54,-0.8],[-0.5,-0.9],[-0.46,-1.2],[-0.88,-3.6],[-0.84,-2.6],[-0.8,-3],[-0.76,-2.7],[-0.72,-2.2],[-0.68,-3],[-0.64,-2.2],[-0.6,-2.8],[-0.56,-3],[-0.52,-1.8],[-0.48,-2],[-0.46,-3.4],[-0.9,-4.6],[-0.86,-3.8],[-0.82,-3.6],[-0.78,-3.4],[-0.74,-4.2],[-0.7,-4],[-0.66,-3.8],[-0.62,-4],[-0.58,-3],[-0.54,-4],[-0.5,-3.8],[-0.47,-4.6],[-0.9,-6.2],[-0.85,-5],[-0.8,-4.6],[-0.76,-5],[-0.72,-5.2],[-0.68,-5.6],[-0.64,-5.4],[-0.6,-4.3],[-0.56,-4.8],[-0.52,-5.4],[-0.48,-4.8],[-0.45,-6],[-0.92,-7],[-0.86,-6.6],[-0.82,-7.3],[-0.78,-5.5],[-0.74,-6.2],[-0.7,-6.4],[-0.66,-7.2],[-0.62,-5.6],[-0.58,-6.3],[-0.54,-6],[-0.5,-7.2],[-0.47,-7.4],[-0.88,-9.5],[-0.84,-8],[-0.8,-7.2],[-0.76,-7.6],[-0.72,-7.8],[-0.68,-6.6],[-0.64,-6.6],[-0.6,-7.6],[-0.56,-7.6],[-0.52,-8],[-0.58,-8.8],[-0.58,-9.2],
[-0.78,4.6],[-0.74,5.6],[-0.72,6.2],[-0.71,7.1],[-0.72,7.6],[-0.71,8.3],[-0.68,4.1],[-0.64,4.5],[-0.6,3.6],[-0.56,5.2],[-0.53,5.8],[-0.5,4.8],[-0.48,5.2],[-0.46,6],[-0.46,7.2],[-0.47,8.5],[-0.48,9.6],[-0.47,10],[-0.44,7],[-0.44,9],[-0.43,6],[-0.42,4.6],[-0.41,3.6],[-0.4,3],[-0.45,4.5],[-0.46,2.4],[-0.43,3],[-0.44,1],[-0.97,-4.4],[-0.99,-3],[-1,-3.8],[-1.02,-2.8],[-1.04,-3.4],[-0.95,-5],[-0.97,-5.6],[-0.94,-6.8],[-0.98,-0.2],[-0.96,0.8],[-0.94,1.4],[-0.92,2.4],[-0.9,2.8],[-0.88,2.2],[-0.86,3],[-0.84,3.8],[-1.78,7.9],[-1.83,7.6],[-1.86,8.2],[-1.88,9.2],[-1.88,10],[-1.85,10.2],[-1.84,10.9],[-1.92,9.8],[-1.9,10.2],[-1.9,9.4],[-1.87,8.3],[-1.83,6.2],[-1.8,5.2],[-1.76,5],[-1.74,3.6],[-1.7,1.6],[-1.72,0.6],[-1.68,0.4],[-1.66,1],[-1.65,0.2],[-1.64,1.8],[-1.63,0.4],[-1.62,2.6],[-1.61,-0.4],[-1.66,-0.4],[-1.92,4.6],[-1.95,4.5],[-1.97,3.9],[-1.9,3.8],[-1.86,3.2],[-1.84,2.2],[-1.82,2],[-1.8,1.2],[-1.78,0.6],[-1.76,-0.6],[-1.74,-1.6],
[-0.72,0.3],[-0.68,-0.6],[-0.64,0.6],[-0.6,1],[-0.56,-0.6],[-0.52,1],[-0.7,-1.9],[-0.66,-3],[-0.62,-3.6],[-0.58,-2.5],[-0.54,-2.2],[-0.5,-2.7],[-0.71,-4.4],[-0.67,-4.8],[-0.63,-5],[-0.59,-4.6],[-0.55,-4.2],[-0.51,-4.6],[-0.73,-5.6],[-0.69,-5.9],[-0.65,-6.6],[-0.61,-5.4],[-0.57,-5.6],[-0.53,-5.2],[-0.49,-6],[-0.75,-3.2],[-0.79,-2.8],[-0.83,-3],[-0.77,-6.2],[-0.81,-4.6],[-0.85,-6.2],[-0.73,1.8],[-0.69,2.8],[-0.65,1.8],[-0.61,2.4],[-0.57,2.2],[-0.53,1.5],[-0.49,1.6],[-0.55,-2],[-0.6,-4],[-0.64,-1.4],[-0.68,-1.2],[-0.72,-3.2],[-0.76,-3.4],[-0.8,-2],[-0.84,-4.2],[-0.86,-1.2],[-0.9,-1.4],[-0.92,-3],[-0.94,-4.6],[-0.93,0]
];
const captions=[
 {t:"（a）SHAP total thrust dependence plot",x:169.5,y:270.5},
 {t:"（b）SHAP cutter disk torque dependence plot",x:523,y:270.5},
 {t:"（c）SHAP advance speed dependence plot",x:170.5,y:571.5},
 {t:"（d）SHAP rear shield slope dependence plot",x:523.5,y:571.5}];
const panels=[
 {pts:thrustPoints,name:"totalThrust",left:0,top:0,ml:44,mr:13,mt:1,h:231,xd:[644,1082],yd:[-32,22.2],xt:[650,700,750,800,850,900,950,1000,1050],yt:[-30,-20,-10,0,10,20],xm:10,ym:2,xf:d3.format("d"),yo:40},
 {pts:torquePoints,name:"cutterDiskTorque",left:334,top:0,ml:57,mr:1,mt:1,h:231,xd:[346,2799],yd:[-29.4,17.4],xt:[500,1000,1500,2000,2500],yt:[-20,-10,0,10],xm:100,ym:2,xf:d3.format("d"),yo:41},
 {pts:speedPoints,name:"advanceSpeed",left:0,top:290,ml:44,mr:13,mt:14,h:243.3,xd:[0.9,41.8],yd:[-20.65,24.4],xt:[5,10,15,20,25,30,35,40],yt:[-20,-10,0,10,20],xm:1,ym:2,xf:d3.format("d"),yo:40},
 {pts:slopePoints,name:"rearShieldSlope",left:334,top:290,ml:57,mr:1,mt:15.7,h:244.3,xd:[-2.524,-0.027],yd:[-15.95,15],xt:[-2.5,-2,-1.5,-1,-0.5],yt:[-15,-10,-5,0,5,10,15],xm:0.1,ym:1,xf:d3.format(".1f"),yo:41}];
const FONT='"Liberation Serif",serif', TXT="#7a7a7a", AX="#8a8a8a", GRID="#b4b4b4", DOT="#1e88e5";
const root=document.getElementById("root");
function seq(a,b,s){const o=[];const st=Math.ceil(a/s-1e-9);for(let i=st;i*s<=b+1e-9;i++)o.push(+(i*s).toFixed(6));return o;}
for(const p of panels){
 const [x0,x1]=p.xd,[y0,y1]=p.yd;
 const xLen=(y1-y0)/(p.h-p.mt), yLen=(x1-x0)/(334-p.ml-p.mr);
 const svg=Plot.plot({
  width:334,height:p.h+26,marginLeft:p.ml,marginRight:p.mr,marginTop:p.mt,marginBottom:26,
  style:{fontFamily:FONT,fontSize:"10.5px",color:TXT,background:"transparent",overflow:"visible"},
  x:{domain:p.xd,label:null},y:{domain:p.yd,label:null},
  marks:[
   Plot.ruleX(p.xt,{stroke:GRID,strokeWidth:0.9,strokeDasharray:"1.6,1.4"}),
   Plot.ruleY(p.yt,{stroke:GRID,strokeWidth:0.9,strokeDasharray:"1.6,1.4"}),
   Plot.ruleX(p.xt,{x:d=>d,y1:y0,y2:y0+4*xLen,stroke:AX,strokeWidth:0.8}),
   Plot.ruleX(seq(x0,x1,p.xm),{x:d=>d,y1:y0,y2:y0+2*xLen,stroke:AX,strokeWidth:0.6}),
   Plot.ruleY(p.yt,{y:d=>d,x1:x0,x2:x0+4*yLen,stroke:AX,strokeWidth:0.8}),
   Plot.ruleY(seq(y0,y1,p.ym),{y:d=>d,x1:x0,x2:x0+2*yLen,stroke:AX,strokeWidth:0.6}),
   Plot.ruleY([y0],{stroke:AX,strokeWidth:1}),
   Plot.ruleX([x0],{stroke:AX,strokeWidth:1}),
   Plot.dot(p.pts,{x:d=>d[0],y:d=>d[1],r:2.2,fill:DOT,stroke:"none"}),
   Plot.axisX({ticks:p.xt,tickFormat:p.xf,tickSize:0,tickPadding:0,label:null,fontSize:10.5,anchor:"bottom",color:TXT}),
   Plot.axisX({ticks:[],tickSize:0,label:p.name,labelAnchor:"center",labelArrow:"none",labelOffset:21,fontSize:11.8,anchor:"bottom",color:TXT}),
   Plot.axisY({ticks:p.yt,tickFormat:d3.format("d"),tickSize:0,tickPadding:5,label:null,fontSize:10.5,anchor:"left",color:TXT}),
   Plot.axisY({ticks:[],tickSize:0,label:"SHAP value for\n"+p.name,labelAnchor:"center",labelArrow:"none",labelOffset:p.yo,fontSize:11.5,anchor:"left",color:TXT})
  ]});
 svg.style.left=p.left+"px";svg.style.top=p.top+"px";
 root.appendChild(svg);
}
for(const c of captions){const d=document.createElement("div");d.className="cap";d.textContent=c.t;d.style.left=c.x+"px";d.style.top=c.y+"px";root.appendChild(d);}
</script></body></html>
